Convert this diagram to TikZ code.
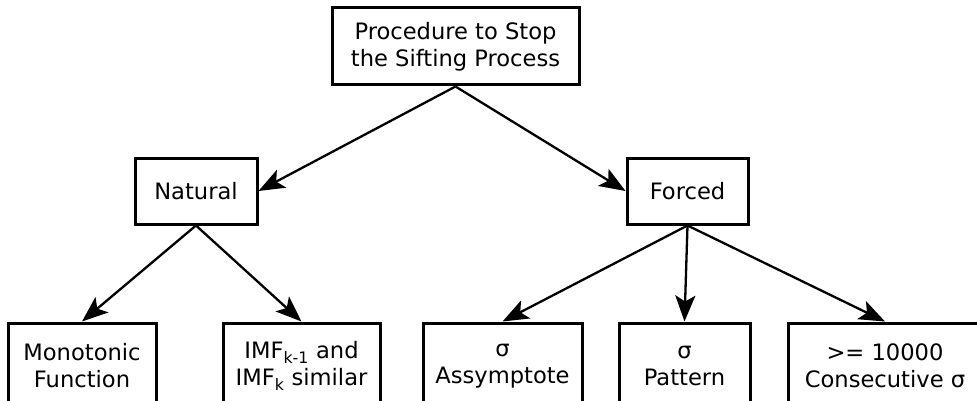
\documentclass[tikz,border=0pt]{standalone}
\usepackage{fontspec}
\setmainfont{DejaVu Sans}
\usetikzlibrary{arrows.meta}
\begin{document}
\begin{tikzpicture}[x=1pt,y=-1pt,
  box/.style={draw=black, line width=3pt, fill=white, inner sep=0pt, align=center,
    font=\fontsize{22.6}{27}\selectfont, minimum height=#1},
  box/.default=66pt,
  conn/.style={line width=2.3pt, -{Stealth[length=26pt,width=20pt,inset=6pt]}}]
\clip (0,0) rectangle (977,401);
\fill[white] (0,0) rectangle (977,401);
\node[box=77pt, minimum width=247pt] (top) at (455.5,46.5) {Procedure to Stop\\the Sifting Process};
\node[box, minimum width=122pt] (nat) at (196,191) {Natural};
\node[box, minimum width=121pt] (for) at (687.5,191) {Forced};
\node[box=86pt, minimum width=148pt] (mono) at (82,366) {Monotonic\\Function};
\node[box=86pt, minimum width=157pt] (imf) at (301.5,366) {IMF\textsubscript{k-1} and\\IMF\textsubscript{k} similar};
\node[box=86pt, minimum width=159pt] (asy) at (502.5,366) {σ\\Assymptote};
\node[box=86pt, minimum width=131pt] (pat) at (684.5,366) {σ\\Pattern};
\node[box=86pt, minimum width=194pt] (con) at (885,366) {>= 10000\\Consecutive σ};
\draw[conn] (top.south) -- (nat.east);
\draw[conn] (top.south) -- (for.west);
\draw[conn] (nat.south) -- (mono.north);
\draw[conn] (nat.south) -- (imf.north);
\draw[conn] (for.south) -- (asy.north);
\draw[conn] (for.south) -- (pat.north);
\draw[conn] (for.south) -- (con.north);
\end{tikzpicture}
\end{document}
